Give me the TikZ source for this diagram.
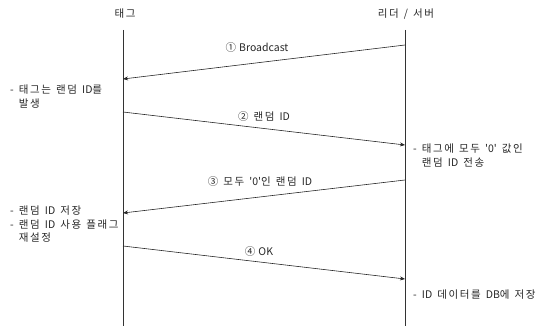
\documentclass[tikz,border=0pt]{standalone}
\usepackage{fontspec}
\setmainfont[WordSpace=1.3,LetterSpace=15]{Noto Sans CJK KR}
\newfontfamily\latfont[WordSpace=1.3]{Noto Sans CJK KR}
\newcommand{\lat}[1]{{\latfont #1}}
\usepackage{xcolor}
\usepackage{tikz}
\usetikzlibrary{arrows.meta}

\tikzset{
  lifeline/.style={draw=black!80, line width=0.6pt},
  msg/.style={draw=black!85, line width=0.6pt, -{Stealth[length=5pt,width=4pt]}},
  note/.style={anchor=north west, align=left, inner sep=0pt},
  msglabel/.style={inner sep=1pt}
}

\begin{document}
\begin{tikzpicture}[x=1pt, y=-1pt, font=\fontsize{10.5}{13.5}\selectfont, text=black!85]
    \useasboundingbox (0,0) rectangle (546,326);

    % Lifelines
    \node (tag) at (125,14) {태그};
    \node (srv) at (406,14) {리더 / 서버};
    \coordinate (tagtop) at (123,30);
    \coordinate (tagbot) at (123,326);
    \coordinate (srvtop) at (405,30);
    \coordinate (srvbot) at (405,326);
    \draw[lifeline] (tagtop) -- (tagbot);
    \draw[lifeline] (srvtop) -- (srvbot);

    % Message end points
    \coordinate (s1) at (405,45);
    \coordinate (t1) at (123,79);
    \coordinate (t2) at (123,112);
    \coordinate (s2) at (405,145);
    \coordinate (s3) at (405,180);
    \coordinate (t3) at (123,213);
    \coordinate (t4) at (123,246);
    \coordinate (s4) at (405,279);

    % Messages
    \draw[msg] (s1) -- (t1);
    \node[msglabel] (m1) at (257,48) {\lat{① Broadcast}};
    \draw[msg] (t2) -- (s2);
    \node[msglabel] (m2) at (264,117) {② 랜덤 \lat{ID}};
    \draw[msg] (s3) -- (t3);
    \node[msglabel] (m3) at (260,182) {③ 모두 \lat{'0'}인 랜덤 \lat{ID}};
    \draw[msg] (t4) -- (s4);
    \node[msglabel] (m4) at (259,252) {\lat{④ OK}};

    % Notes
    \node[note] (n1) at (10,85) {- 태그는 랜덤 \lat{ID}를\\\phantom{- }발생};
    \node[note] (n2) at (413,144) {- 태그에 모두 \lat{'0'} 값인\\\phantom{- }랜덤 \lat{ID} 전송};
    \node[note] (n3) at (10,206) {- 랜덤 \lat{ID} 저장\\- 랜덤 \lat{ID} 사용 플래그\\\phantom{- }재설정};
    \node[note] (n4) at (413,290) {- \lat{ID} 데이터를 \lat{DB}에 저장};
\end{tikzpicture}
\end{document}
